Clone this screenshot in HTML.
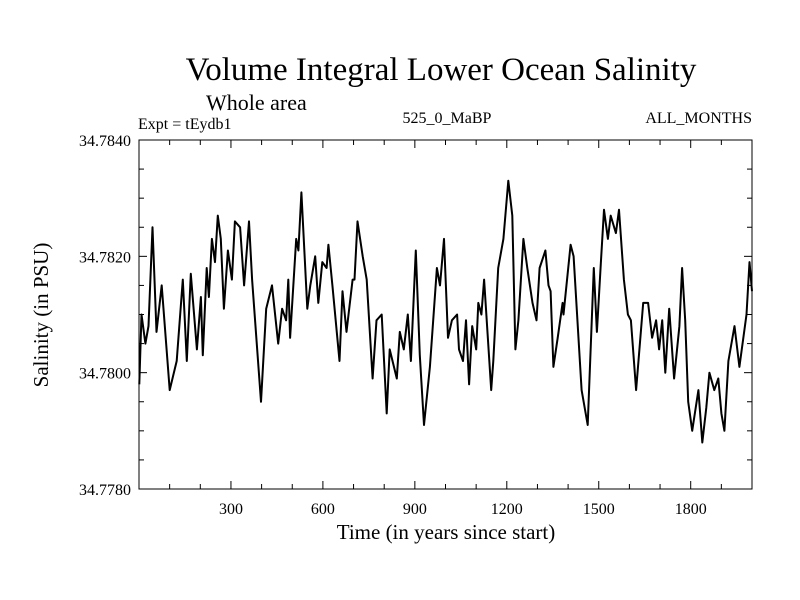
<!DOCTYPE html>
<html><head><meta charset="utf-8"><style>
body{margin:0;background:#fff;}
svg{display:block;font-family:"Liberation Serif",serif;}
</style></head><body>
<svg id="chart" width="800" height="600">
<text x="441" y="80" font-size="33" text-anchor="middle">Volume Integral Lower Ocean Salinity</text>
<text x="206" y="110" font-size="22">Whole area</text>
<text x="138" y="129" font-size="16">Expt = tEydb1</text>
<text x="447" y="123" font-size="16" text-anchor="middle">525_0_MaBP</text>
<text x="752" y="123" font-size="16" text-anchor="end">ALL_MONTHS</text>
<text x="446" y="539" font-size="21" text-anchor="middle">Time (in years since start)</text>
<text transform="translate(48,315) rotate(-90)" font-size="21" text-anchor="middle">Salinity (in PSU)</text>
<g id="axes"></g>
<g id="plot"></g>
</svg>
<script>
const years=[1,8,21,31,44,57,74,100,123,143,156,169,189,202,208,221,228,238,248,257,267,277,290,303,313,330,343,359,369,398,415,434,454,467,480,487,493,513,520,530,549,559,575,585,598,612,618,631,654,664,677,697,703,713,730,743,762,775,792,808,818,841,851,864,877,887,903,916,930,949,972,982,995,1008,1021,1038,1044,1057,1067,1077,1087,1100,1107,1117,1126,1149,1156,1172,1189,1205,1218,1228,1238,1254,1267,1284,1297,1307,1326,1336,1343,1352,1366,1382,1385,1408,1418,1444,1464,1484,1494,1507,1517,1530,1539,1556,1566,1582,1595,1605,1622,1645,1661,1674,1687,1697,1707,1717,1730,1746,1763,1772,1782,1792,1805,1825,1838,1851,1861,1877,1890,1900,1910,1923,1943,1959,1982,1992,2000];
const salinity=[34.7798,34.7810,34.7805,34.7808,34.7825,34.7807,34.7815,34.7797,34.7802,34.7816,34.7802,34.7817,34.7804,34.7813,34.7803,34.7818,34.7813,34.7823,34.7819,34.7827,34.7823,34.7811,34.7821,34.7816,34.7826,34.7825,34.7815,34.7826,34.7816,34.7795,34.7811,34.7815,34.7805,34.7811,34.7809,34.7816,34.7806,34.7823,34.7821,34.7831,34.7811,34.7815,34.7820,34.7812,34.7819,34.7818,34.7822,34.7815,34.7802,34.7814,34.7807,34.7816,34.7816,34.7826,34.7820,34.7816,34.7799,34.7809,34.7810,34.7793,34.7804,34.7799,34.7807,34.7804,34.7810,34.7802,34.7821,34.7803,34.7791,34.7801,34.7818,34.7815,34.7823,34.7806,34.7809,34.7810,34.7804,34.7802,34.7809,34.7798,34.7808,34.7804,34.7812,34.7810,34.7816,34.7797,34.7802,34.7818,34.7823,34.7833,34.7827,34.7804,34.7809,34.7823,34.7818,34.7812,34.7809,34.7818,34.7821,34.7815,34.7814,34.7801,34.7806,34.7812,34.7810,34.7822,34.7820,34.7797,34.7791,34.7818,34.7807,34.7819,34.7828,34.7823,34.7827,34.7824,34.7828,34.7816,34.7810,34.7809,34.7797,34.7812,34.7812,34.7806,34.7809,34.7804,34.7809,34.7800,34.7811,34.7799,34.7808,34.7818,34.7809,34.7795,34.7790,34.7797,34.7788,34.7794,34.7800,34.7797,34.7799,34.7793,34.7790,34.7802,34.7808,34.7801,34.7810,34.7819,34.7814];
const xTicks=[300,600,900,1200,1500,1800];
const yTicks=[34.778,34.780,34.782,34.784];
const yTickLabels=["34.7780","34.7800","34.7820","34.7840"];

const L=139,R=752,T=140,B=489;
const xs=v=>L+(v-0)/(2000-0)*(R-L);
const ys=v=>B-(v-34.778)/(34.784-34.778)*(B-T);
const NS="http://www.w3.org/2000/svg";
const axes=document.getElementById('axes'),plot=document.getElementById('plot');
function mk(tag,attrs,parent){const e=document.createElementNS(NS,tag);for(const k in attrs)e.setAttribute(k,attrs[k]);parent.appendChild(e);return e;}

const frame=mk('rect',{x:L,y:T,width:R-L,height:B-T,fill:'none',stroke:'#000','stroke-width':1},axes);



for(let v=100;v<2000;v+=100){
  const major=v%300===0,x=xs(v),len=major?8:5;
  const t=mk('line',{x1:x,x2:x,y1:B,y2:B-len,stroke:'#000'},axes);
  
  
  const t2=mk('line',{x1:x,x2:x,y1:T,y2:T+len,stroke:'#000'},axes);
  
  
}
xTicks.forEach(v=>{
  const t=mk('text',{x:xs(v),y:B+25,'font-size':16,'text-anchor':'middle'},axes);
  t.textContent=v;
  
  
});
for(let i=0;i<=12;i++){
  const v=34.778+i*0.0005,y=ys(v),major=i%4===0,len=major?8:5;
  const a=mk('line',{x1:L,x2:L+len,y1:y,y2:y,stroke:'#000'},axes);
  
  
  const b=mk('line',{x1:R,x2:R-len,y1:y,y2:y,stroke:'#000'},axes);
  
  
}
yTicks.forEach((v,i)=>{
  const t=mk('text',{x:131,y:ys(v)+6,'font-size':16,'text-anchor':'end'},axes);
  t.textContent=yTickLabels[i];
  
  
});
const d=years.map((v,i)=>(i?'L':'M')+xs(v).toFixed(1)+','+ys(salinity[i]).toFixed(1)).join('');
const line=mk('path',{d:d,fill:'none',stroke:'#000','stroke-width':2,'stroke-linejoin':'round'},plot);


</script>
</body></html>
